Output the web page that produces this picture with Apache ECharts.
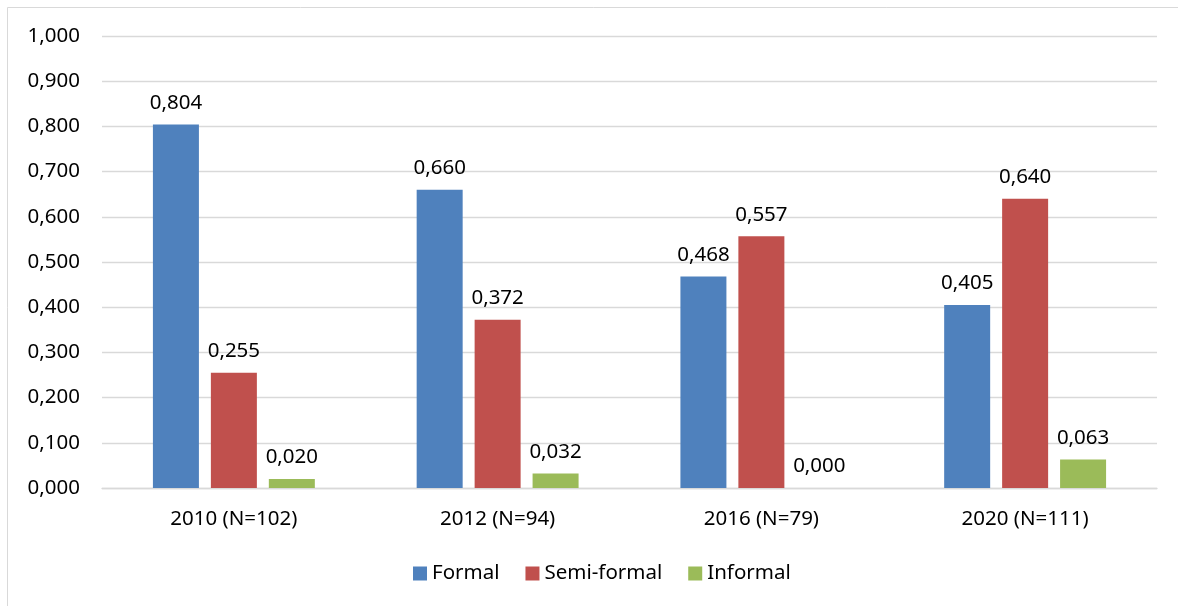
<!DOCTYPE html>
<html>
<head>
<meta charset="utf-8">
<script src="https://cdn.jsdelivr.net/npm/echarts@6/dist/echarts.min.js"></script>
<style>
  html, body { margin: 0; padding: 0; background: #ffffff; }
  #chart { width: 1178px; height: 606px; }
</style>
</head>
<body>
<div id="chart"></div>
<script>
// Survey waves and share of each modality
const categories = ['2010 (N=102)', '2012 (N=94)', '2016 (N=79)', '2020 (N=111)'];
const formal = [0.804, 0.660, 0.468, 0.405];
const semiFormal = [0.255, 0.372, 0.557, 0.640];
const informal = [0.020, 0.032, 0.000, 0.063];

const FONT = '"Noto Sans", sans-serif';
const SIZE = 20.5;
const fmt = v => Number(v).toFixed(3).replace('.', ',');

function barSeries(name, data, color) {
  return {
    name: name,
    type: 'bar',
    data: data,
    barWidth: 46,
    barGap: '26%',
    itemStyle: { color: color },
    label: {
      show: true,
      position: 'top',
      distance: 11,
      color: '#000000',
      fontFamily: FONT,
      fontSize: SIZE,
      formatter: p => fmt(p.value)
    }
  };
}

const chart = echarts.init(document.getElementById('chart'), null, { renderer: 'canvas' });
chart.setOption({
  animation: false,
  backgroundColor: '#ffffff',
  graphic: [{
    type: 'rect',
    shape: { x: 7.5, y: 7.5, width: 1200, height: 700 },
    style: { fill: 'none', stroke: '#D9D9D9', lineWidth: 1 },
    silent: true
  }],
  grid: { left: 102, right: 21, top: 36, bottom: 118, containLabel: false },
  xAxis: {
    type: 'category',
    data: categories,
    axisLine: { show: true, lineStyle: { color: '#D9D9D9', width: 1.3 } },
    axisTick: { show: false },
    axisLabel: { color: '#000000', fontFamily: FONT, fontSize: SIZE, margin: 21 }
  },
  yAxis: {
    type: 'value',
    min: 0,
    max: 1,
    interval: 0.1,
    axisLine: { show: false },
    axisTick: { show: false },
    splitLine: { lineStyle: { color: '#D9D9D9', width: 1.3 } },
    axisLabel: { color: '#000000', fontFamily: FONT, fontSize: SIZE, margin: 22, formatter: v => fmt(v) }
  },
  legend: {
    top: 558,
    left: 408,
    itemWidth: 14,
    itemHeight: 14,
    itemGap: 26,
    icon: 'rect',
    textStyle: { color: '#000000', fontFamily: FONT, fontSize: SIZE, padding: [0, 0, 0, 0] },
    data: ['Formal', 'Semi-formal', 'Informal']
  },
  series: [
    barSeries('Formal', formal, '#4F81BD'),
    barSeries('Semi-formal', semiFormal, '#C0504D'),
    barSeries('Informal', informal, '#9BBB59')
  ]
});
</script>
</body>
</html>
